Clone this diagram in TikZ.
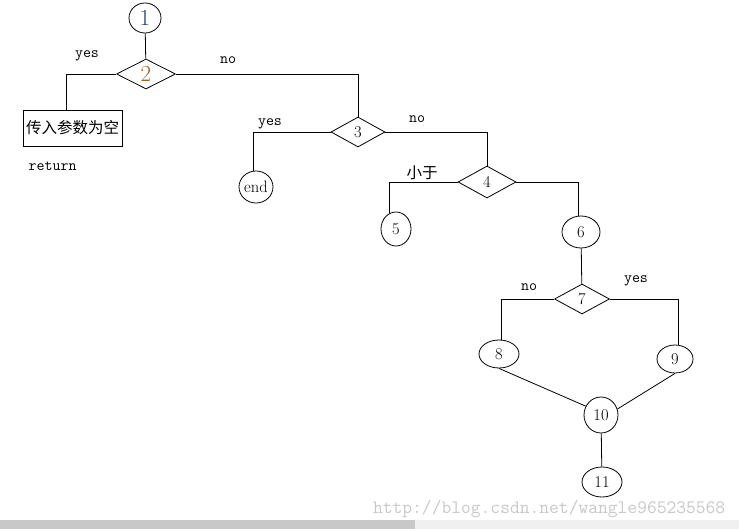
\documentclass[tikz,border=0pt]{standalone}
\usepackage{fontspec}
\newfontfamily\cjk{Noto Sans CJK SC}
\usepackage{tikz}
\usetikzlibrary{shapes.geometric}
\definecolor{num-blue}{RGB}{30,60,130}
\definecolor{num-brown}{RGB}{150,100,40}
\definecolor{mark-grey}{RGB}{200,200,200}
\definecolor{bar-dark}{RGB}{200,200,200}
\definecolor{bar-light}{RGB}{240,240,240}
\tikzstyle{oval}=[draw, ellipse, inner sep=0pt, font=\fontsize{16.5}{16.5}\selectfont]
\tikzstyle{choice}=[draw, diamond, inner sep=0pt, font=\fontsize{16.5}{16.5}\selectfont]
\tikzstyle{lab}=[font=\ttfamily\fontsize{15.5}{15.5}\selectfont]
\newcommand{\ovalNode}[5]{
	\node[oval, minimum width=#3, minimum height=#4] (#1) at #2 {#5};
}

\begin{document}
\begin{tikzpicture}[x=1pt, y=-1pt, line width=0.8pt]
	\useasboundingbox (0,0) rectangle (739,529);
	\fill[bar-dark] (0,520) rectangle (415,529);
	\fill[bar-light] (415,520) rectangle (739,529);
	\ovalNode{n1}{(145,18)}{32}{30}{\fontsize{23}{23}\selectfont\color{num-blue}1}
	\node[choice, minimum width=59, minimum height=30, font=\fontsize{23}{23}\selectfont, text=num-brown] (d2) at (146,74) {2};
	\node[draw, minimum width=99, minimum height=36, inner sep=0pt, font=\cjk\fontsize{15.5}{16}\selectfont] (empty) at (72.5,128) {传入参数为空};
	\node[lab, anchor=west] (ret) at (25,166) {return};
	\node[choice, minimum width=54, minimum height=30] (d3) at (358,132) {3};
	\ovalNode{end}{(256,187)}{34}{32}{end}
	\node[choice, minimum width=58, minimum height=32] (d4) at (487,182) {4};
	\ovalNode{n5}{(396,229)}{30}{34}{5}
	\ovalNode{n6}{(581,232)}{38}{32}{6}
	\node[choice, minimum width=55, minimum height=30] (d7) at (582,299) {7};
	\ovalNode{n8}{(499,354)}{40}{28}{8}
	\ovalNode{n9}{(675,359)}{36}{28}{9}
	\ovalNode{n10}{(601,415)}{34}{36}{10}
	\ovalNode{n11}{(602,482)}{40}{30}{11}
	\draw (n1) -- (d2);
	\draw (d2.west) -| ([xshift=-6.5pt]empty.north);
	\draw (d2.east) -| (d3.north);
	\draw (d3.west) -| (end.100);
	\draw (d3.east) -| (d4.north);
	\draw (d4.west) -| (n5.114);
	\draw (d4.east) -| (n6.99);
	\draw (n6) -- (d7);
	\draw (d7.west) -| (n8.81);
	\draw (d7.east) -| (n9.77);
	\draw (n8.south) -- (n10.150);
	\draw (n9.south) -- (n10.20);
	\draw (n10) -- (n11);
	\node[lab] at (87,56) {yes};
	\node[lab] at (228,60) {no};
	\node[lab] at (270,124) {yes};
	\node[lab] at (417,119) {no};
	\node[font=\cjk\fontsize{15.5}{16}\selectfont] at (422,173) {小于};
	\node[lab] at (529,287) {no};
	\node[lab] at (636,281) {yes};
	\node[font=\ttfamily\fontsize{19}{19}\selectfont, text=mark-grey, anchor=east] (mark) at (729,509) {http://blog.csdn.net/wangle965235568};
\end{tikzpicture}
\end{document}
